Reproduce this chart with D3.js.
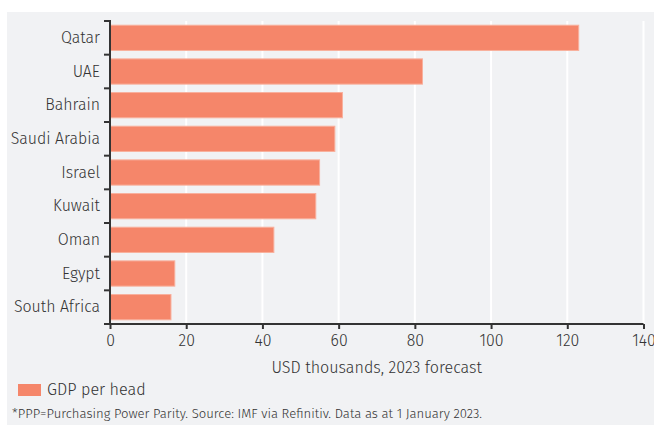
<!DOCTYPE html>
<html><head><meta charset="utf-8">
<script src="https://cdn.jsdelivr.net/npm/d3@7"></script>
<style>
html,body{margin:0;padding:0;background:#fff;}
svg{display:block;font-family:"Fira Sans","Roboto",sans-serif;}
text{font-weight:300;}
</style></head>
<body><svg id="c" width="654" height="425"></svg>
<script>
const categories = ["Qatar","UAE","Bahrain","Saudi Arabia","Israel","Kuwait","Oman","Egypt","South Africa"];
const gdpPerHead = [123, 82, 61, 59, 55, 54, 43, 17, 16];
const xTicks = [0,20,40,60,80,100,120,140];
const seriesName = "GDP per head";
const xTitle = "USD thousands, 2023 forecast";
const footnote = "*PPP=Purchasing Power Parity. Source: IMF via Refinitiv. Data as at 1 January 2023.";

const data = categories.map((c,i)=>({c, v: gdpPerHead[i]}));
const svg = d3.select("#c");
const W = 654, H = 425;
const m = {left:110, right:10, top:21, bottom:101};
const txt = "#333333";
const fs = "15.9px";

svg.append("rect").attr("x",7).attr("y",12).attr("width",W-7).attr("height",H-12).attr("fill","#f1f2f4");

const x = d3.scaleLinear().domain([0,140]).range([m.left, 643.5]);
const y = d3.scaleBand().domain(categories).range([m.top, 324]).paddingInner(0.25).paddingOuter(0.125);

// gridlines
svg.append("g").selectAll("line").data(xTicks.slice(1)).join("line")
  .attr("x1",d=>x(d)).attr("x2",d=>x(d)).attr("y1",m.top).attr("y2",324)
  .attr("stroke","#ffffff").attr("stroke-width",2);

// bars
svg.append("g").selectAll("rect").data(data).join("rect")
  .attr("x",x(0)).attr("y",d=>y(d.c)).attr("width",d=>x(d.v)-x(0)).attr("height",y.bandwidth())
  .attr("fill","#f5866a").attr("stroke","#f8b09d").attr("stroke-width",1);

// x axis
const xa = svg.append("g").attr("transform","translate(0,324)")
  .call(d3.axisBottom(x).tickValues(xTicks).tickSize(5).tickSizeOuter(5).tickPadding(6));
// y axis
const ya = svg.append("g").attr("transform",`translate(${m.left},0)`)
  .call(d3.axisLeft(y).tickSize(0).tickPadding(10));
// separators between categories as ticks
const seps = d3.range(categories.length+1).map(i=>m.top + i*(324-m.top)/categories.length);
svg.append("g").selectAll("line").data(seps).join("line")
  .attr("x1",104).attr("x2",m.left).attr("y1",d=>d).attr("y2",d=>d)
  .attr("stroke","#333").attr("stroke-width",2);
svg.append("line").attr("x1",m.left).attr("x2",m.left).attr("y1",m.top-1).attr("y2",325).attr("stroke","#333").attr("stroke-width",2);

[xa,ya].forEach(g=>{
  g.selectAll(".domain").attr("stroke","#333").attr("stroke-width",2);
  g.selectAll(".tick line").attr("stroke","#333").attr("stroke-width",2);
  g.selectAll("text").attr("fill",txt).style("font-size",fs).style("font-family",'"Fira Sans","Roboto",sans-serif');
});
ya.select(".domain").remove();
xa.select(".domain").attr("d",`M104,0H${x(140)}`);

svg.append("text").attr("x",(x(0)+x(140))/2).attr("y",373).attr("text-anchor","middle")
  .attr("fill",txt).style("font-size","16.1px").text(xTitle);

// legend
svg.append("rect").attr("x",18).attr("y",384).attr("width",23).attr("height",12).attr("fill","#f5866a");
svg.append("text").attr("x",47).attr("y",395).attr("fill",txt).style("font-size","16.2px").text(seriesName);

svg.append("text").attr("x",12).attr("y",418).attr("fill",txt).style("font-size","13.1px").text(footnote);
</script></body></html>
